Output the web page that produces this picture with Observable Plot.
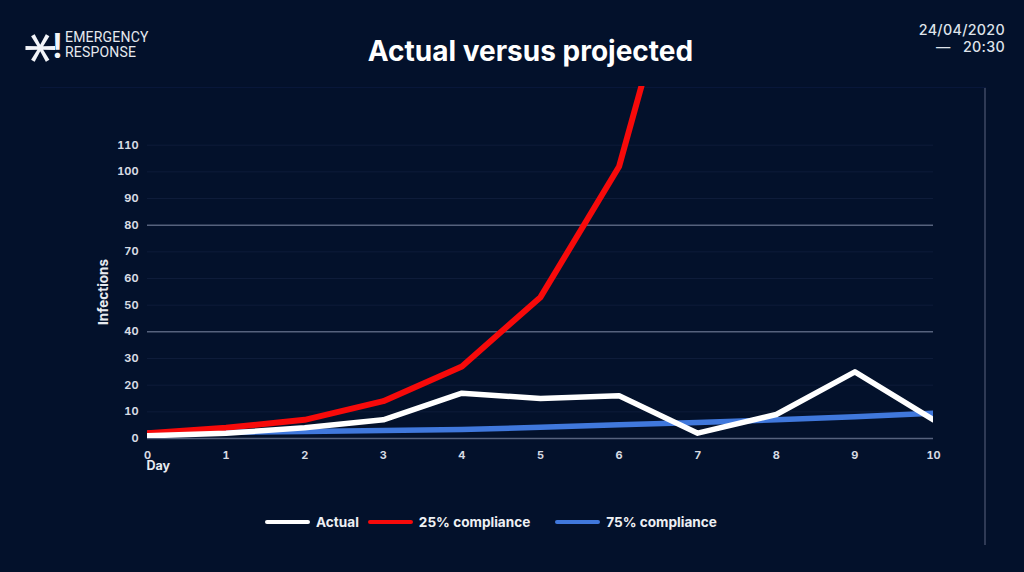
<!DOCTYPE html>
<html>
<head>
<meta charset="utf-8">
<script src="https://cdn.jsdelivr.net/npm/d3@7"></script>
<script src="https://cdn.jsdelivr.net/npm/@observablehq/plot@0.6"></script>
<style>
  html, body { margin: 0; padding: 0; background: #03112b; }
  #wrap { position: relative; width: 1024px; height: 572px; background: #03112b; overflow: hidden; font-family: Inter, "Open Sans", sans-serif; color: #fff; }
  #ast { position: absolute; left: 9px; top: 28px; width: 40px; height: 40px; font-family: Inter, sans-serif; font-size: 72px; font-weight: 300; line-height: 40px; color: #f2f4f8; text-align: center; transform: rotate(90deg); }
  #bang { position: absolute; left: 52px; top: 29px; font-family: Inter, sans-serif; font-size: 34px; font-weight: 600; line-height: 34px; color: #f2f4f8; }
  #words { position: absolute; left: 65px; top: 30px; font-family: "Liberation Sans Narrow", Roboto, sans-serif; font-size: 14px; font-weight: 400; line-height: 14.5px; color: #e6e9ef; letter-spacing: 0.2px; }
  #date { position: absolute; right: 19px; top: 21px; text-align: right; font-family: Inter, sans-serif; font-size: 14.3px; font-weight: 500; line-height: 17px; color: #dfe3ea; letter-spacing: 0.3px; }
  #title { position: absolute; left: 0; width: 1061px; top: 34px; text-align: center; font-size: 28px; font-weight: 700; color: #ffffff; }
  #frameR { position: absolute; left: 984px; top: 88px; width: 2px; height: 457px; background: #2f3a55; }
  #frameT { position: absolute; left: 40px; top: 87px; width: 946px; height: 1px; background: #08173a; }
  #ylabel { position: absolute; left: 53px; top: 284px; width: 100px; height: 16px; line-height: 16px; text-align: center; font-size: 13.5px; font-weight: 700; color: #e8ebf0; transform: rotate(-90deg); }
  #chart { position: absolute; left: 0; top: 0; }
  #legend { position: absolute; top: 514px; left: 265px; display: flex; align-items: center; font-size: 13.6px; font-weight: 700; color: #eef0f4; }
  #legend .sw { width: 45px; height: 4px; border-radius: 2px; margin-right: 6px; }
  #legend .it { display: flex; align-items: center; }
</style>
</head>
<body>
<div id="wrap">
  <div id="frameT"></div>
  <div id="frameR"></div>
  <div id="ast">*</div>
  <div id="bang">!</div>
  <div id="words">EMERGENCY<br>RESPONSE</div>
  <div id="date">24/04/2020<br>—&nbsp;&nbsp;&nbsp;20:30</div>
  <div id="title">Actual versus projected</div>
  <div id="chart"></div>
  <div id="ylabel">Infections</div>
  <div id="legend"></div>
</div>
<script>
// ---- data ----
const days = [0, 1, 2, 3, 4, 5, 6, 7, 8, 9, 10];
const actual = [1, 2, 4, 7, 17, 15, 16, 2, 9, 25, 7];
const compliance25Days = [0, 1, 2, 3, 4, 5, 6, 7];
const compliance25 = [2, 4, 7, 14, 27, 53, 102, 208];
const compliance75 = [2, 2.3, 2.6, 3, 3.4, 4.2, 5.2, 6, 7, 8.2, 9.5];
const yTicks = [0, 10, 20, 30, 40, 50, 60, 70, 80, 90, 100, 110];
const majorGrid = [0, 40, 80];
const seriesNames = ["Actual", "25% compliance", "75% compliance"];
const seriesColors = ["#ffffff", "#f70a0a", "#4078dc"];

const rowsActual = days.map((d, i) => ({day: d, value: actual[i]}));
const rows25 = compliance25Days.map((d, i) => ({day: d, value: compliance25[i]}));
const rows75 = days.map((d, i) => ({day: d, value: compliance75[i]}));

const chart = Plot.plot({
  width: 1024,
  height: 480,
  marginLeft: 147,
  marginRight: 91,
  marginTop: 86,
  marginBottom: 42,
  style: {background: "transparent", color: "#d6dae2", fontFamily: "Inter, sans-serif"},
  x: {domain: [0, 10]},
  y: {domain: [0, 132]},
  marks: [
    Plot.ruleY(yTicks.filter(t => !majorGrid.includes(t)), {stroke: "#0e1c3a", strokeWidth: 1}),
    Plot.ruleY(majorGrid, {stroke: "#56627d", strokeWidth: 1.5}),
    Plot.axisY({ticks: yTicks, tickSize: 0, tickPadding: 9, fontSize: 11, fontWeight: 700, fill: "#d6dae2", label: null}),
    Plot.axisX({ticks: days, tickSize: 0, tickPadding: 13, fontSize: 11, fontWeight: 700, fill: "#d6dae2", label: null}),
    Plot.text(["Day"], {frameAnchor: "bottom-left", textAnchor: "start", dy: 31, dx: -1, fontSize: 12.5, fontWeight: 700, fill: "#e8ebf0"}),
    Plot.line(rows75, {x: "day", y: "value", stroke: seriesColors[2], strokeWidth: 5.5, clip: true}),
    Plot.line(rows25, {x: "day", y: "value", stroke: seriesColors[1], strokeWidth: 6, clip: true}),
    Plot.line(rowsActual, {x: "day", y: "value", stroke: seriesColors[0], strokeWidth: 5.5, clip: true})
  ]
});
document.getElementById("chart").appendChild(chart);

// legend
const legend = document.getElementById("legend");
const gaps = [9, 25, 0];
seriesNames.forEach((name, i) => {
  const it = document.createElement("div");
  it.className = "it";
  it.style.marginRight = gaps[i] + "px";
  const sw = document.createElement("div");
  sw.className = "sw";
  sw.style.background = seriesColors[i];
  const tx = document.createElement("span");
  tx.textContent = name;
  it.appendChild(sw);
  it.appendChild(tx);
  legend.appendChild(it);
});
</script>
</body>
</html>
